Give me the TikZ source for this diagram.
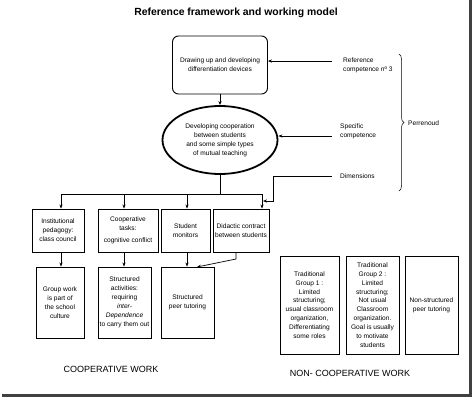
\documentclass[tikz,border=0pt]{standalone}
\usepackage{fontspec}
\setmainfont{Liberation Sans}
\usetikzlibrary{arrows.meta,shapes.geometric,decorations.pathreplacing}
\begin{document}
\begin{tikzpicture}[x=1pt,y=-1pt,
 txt/.style={font=\fontsize{6.6}{8.9}\selectfont, align=center},
 box/.style={draw, line width=0.9pt, inner sep=0pt, txt},
 arr/.style={-{Stealth[length=4pt,width=3.2pt]}, line width=0.7pt},
 lbl/.style={font=\fontsize{6.6}{8.9}\selectfont, align=left, anchor=west, inner sep=0pt},
 big/.style={font=\fontsize{9}{10}\selectfont, inner sep=0pt}]
\useasboundingbox (0,0) rectangle (474,399);
\draw[line width=3pt, black!75] (470.5,0) -- (470.5,395.5) -- (2,395.5);
\node[font=\bfseries\fontsize{10.4}{12}\selectfont] (title) at (236,13) {Reference framework and working model};
\node[box, rounded corners=6pt, minimum width=95pt, minimum height=58pt] (dev) at (220,65) {Drawing up and developing\\differentiation devices};
\node[box, ellipse, line width=1.8pt, minimum width=115pt, minimum height=68pt] (coop) at (220,140) {Developing cooperation\\between students\\and some simple types\\of mutual teaching};
% row 1
\node[box, minimum width=52pt, minimum height=43pt] (inst) at (58,230.5) {Institutional\\pedagogy:\\class council};
\node[box, minimum width=60pt, minimum height=43pt] (task) at (128,230.5) {Cooperative\\tasks:\\[3pt]cognitive conflict};
\node[box, minimum width=49pt, minimum height=43pt] (mon) at (185.5,230.5) {Student\\monitors};
\node[box, minimum width=56pt, minimum height=43pt] (contract) at (241,230.5) {Didactic contract\\between students};
% row 2
\node[box, minimum width=48pt, minimum height=71pt] (group) at (60,302.5) {Group work\\is part of\\the school\\culture};
\node[box, minimum width=53pt, minimum height=71pt] (struct) at (124.5,302.5) {Structured\\activities:\\requiring\\\textit{inter-}\\\textit{Dependence}\\to carry them out};
\node[box, minimum width=53pt, minimum height=71pt] (peer) at (187.5,302.5) {Structured\\peer tutoring};
% non-cooperative
\node[box, minimum width=59pt, minimum height=98pt] (trad1) at (309.5,305) {Traditional\\Group 1 :\\Limited\\structuring;\\usual classroom\\organization,\\Differentiating\\some roles};
\node[box, minimum width=53pt, minimum height=98pt] (trad2) at (372.5,305) {Traditional\\Group 2 :\\Limited\\structuring;\\Not usual\\Classroom\\organization.\\Goal is usually\\to motivate\\students};
\node[box, minimum width=53pt, minimum height=98pt] (nonstr) at (431.5,305) {Non-structured\\peer tutoring};
\node[big] (cw) at (111,369) {COOPERATIVE WORK};
\node[big] (ncw) at (350,373) {NON- COOPERATIVE WORK};
% right labels
\node[lbl] (refc) at (343,65) {Reference\\competence nº 3};
\node[lbl] (spec) at (340,131) {Specific\\competence};
\node[lbl] (dim) at (340,176) {Dimensions};
\node[lbl] (perr) at (408,123) {Perrenoud};
\draw[decorate, decoration={brace, amplitude=5pt}, line width=0.5pt] (399,54) -- (399,191);
% connectors
\coordinate (r1) at (332,61);
\coordinate (r2) at (332,136);
\draw[arr] (r1) -- (dev.east |- r1);
\draw[arr] (r2) -- (coop.east |- r2);
\draw[arr] (dev) -- (coop);
\coordinate (bus) at (220,194);
\coordinate (bL) at (61,194);
\coordinate (b2) at (124,194);
\coordinate (b3) at (187,194);
\coordinate (bR) at (262,194);
\draw[line width=0.7pt] (coop.south) -- (bus);
\draw[line width=0.7pt] (bL) -- (bR);
\draw[arr] (bL) -- (bL |- inst.north);
\draw[arr] (b2) -- (b2 |- task.north);
\draw[arr] (b3) -- (b3 |- mon.north);
\draw[arr] (bR) -- (bR |- contract.north);
\coordinate (d0) at (332,176);
\coordinate (d1) at (273,176);
\coordinate (d2) at (273,201);
\coordinate (d3) at (263,201);
\draw[arr] (d0) -- (d1) -- (d2) -- (d3);
\coordinate (a1) at (61,252);
\draw[arr] (a1 |- inst.south) -- (a1 |- group.north);
\coordinate (a2) at (124,252);
\draw[arr] (a2 |- task.south) -- (a2 |- struct.north);
\coordinate (a3) at (187,252);
\draw[arr] (a3 |- mon.south) -- (a3 |- peer.north);
\coordinate (c0) at (236,252);
\coordinate (c1) at (236,259);
\coordinate (c2) at (197,267);
\draw[arr] (c0 |- contract.south) -- (c1) -- (c2);
\end{tikzpicture}
\end{document}
